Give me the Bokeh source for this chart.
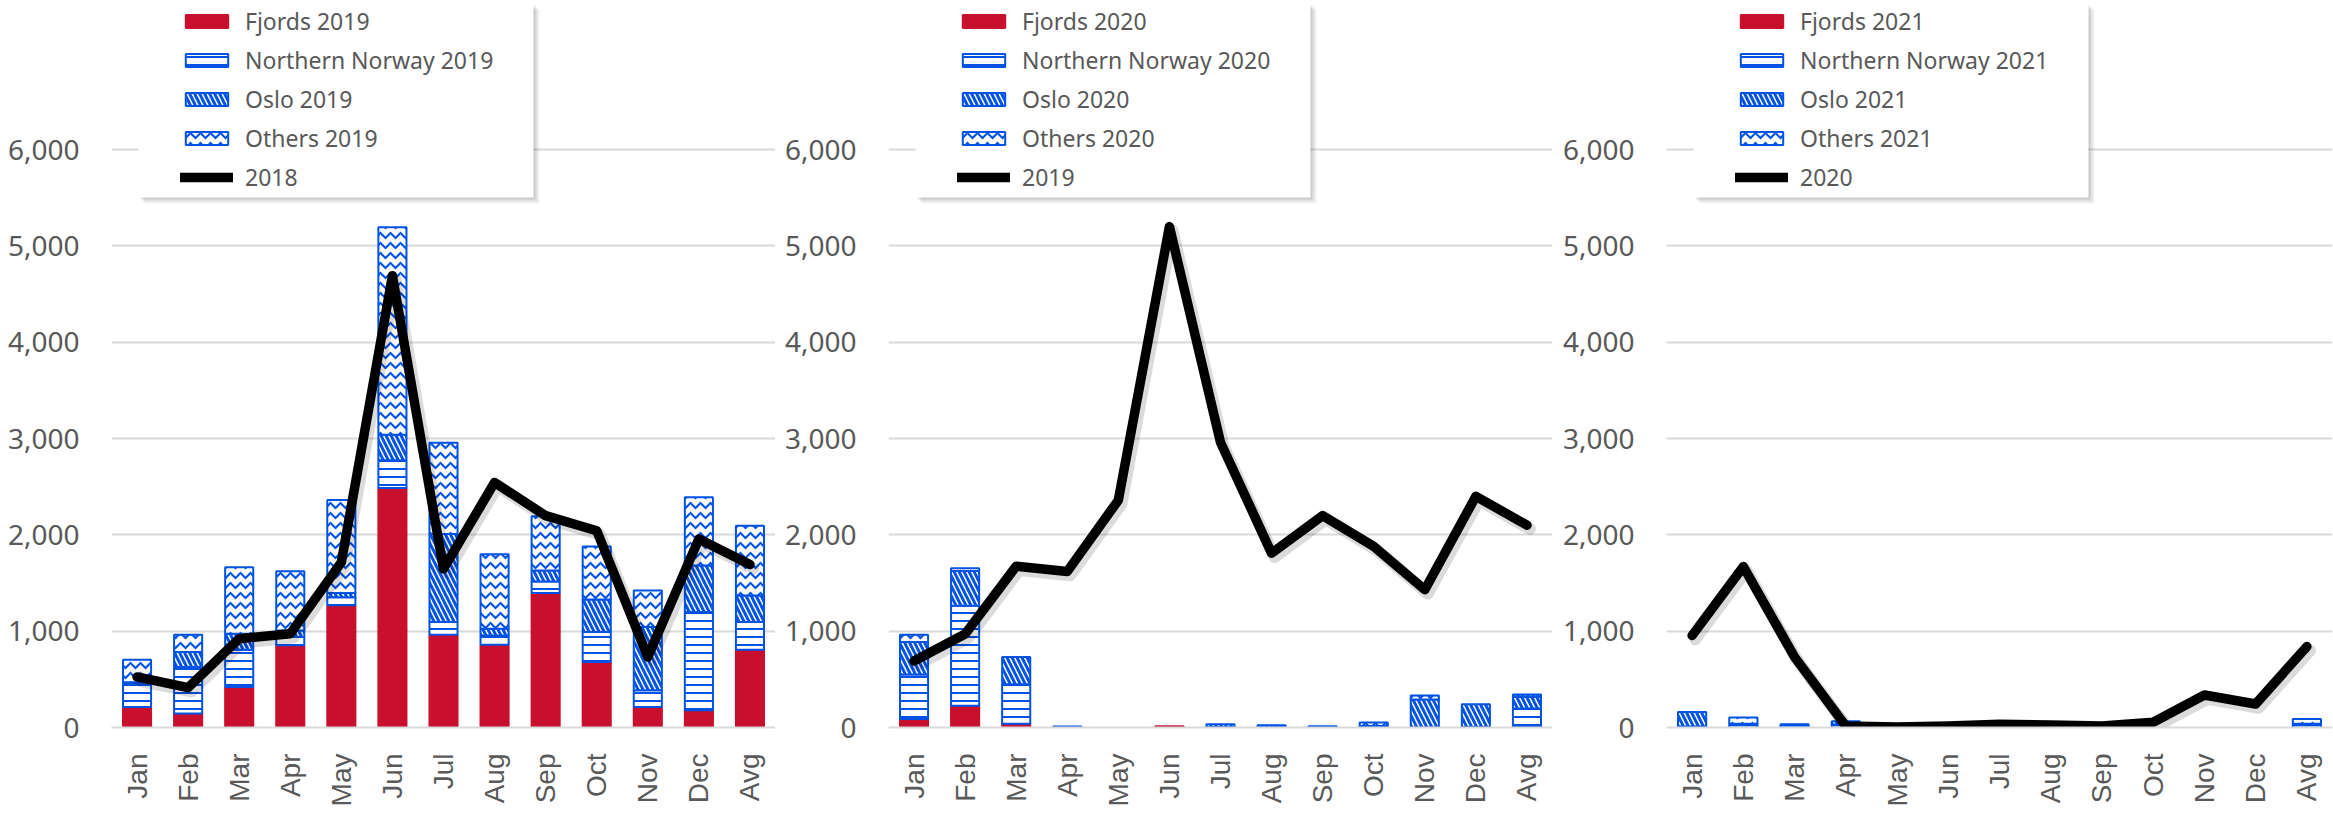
from math import pi
from bokeh.plotting import figure
from bokeh.layouts import row
from bokeh.models import (ColumnDataSource, FactorRange, Range1d, FixedTicker,
                          NumeralTickFormatter, Legend, LegendItem, BoxAnnotation)
from bokeh.transform import dodge
from bokeh.embed import file_html
from bokeh.resources import INLINE

# ---------------- data ----------------
months = ["Jan", "Feb", "Mar", "Apr", "May", "Jun", "Jul", "Aug", "Sep", "Oct", "Nov", "Dec", "Avg"]
y_ticks = [0, 1000, 2000, 3000, 4000, 5000, 6000]

fjords_2019 = [214, 145, 421, 853, 1270, 2485, 963, 860, 1395, 680, 214, 180, 808]
nn_2019     = [249, 483, 387, 86, 83, 290, 131, 96, 120, 311, 173, 1018, 286]
oslo_2019   = [8, 156, 165, 69, 42, 263, 915, 69, 114, 338, 655, 483, 276]
others_2019 = [233, 179, 691, 614, 966, 2154, 946, 773, 563, 549, 380, 708, 725]
line_2018   = [525, 414, 922, 973, 1716, 4690, 1647, 2544, 2199, 2043, 732, 1957, 1691]

fjords_2020 = [89, 227, 38, 0, 0, 12, 5, 0, 0, 0, 0, 5, 14]
nn_2020     = [461, 1038, 412, 10, 0, 0, 0, 0, 0, 15, 0, 0, 183]
oslo_2020   = [337, 360, 282, 0, 0, 0, 30, 24, 0, 0, 291, 237, 121]
others_2020 = [75, 28, 0, 0, 0, 0, 0, 0, 14, 37, 40, 0, 24]
line_2019   = [690, 970, 1675, 1620, 2360, 5200, 2960, 1810, 2200, 1880, 1430, 2400, 2100]

fjords_2021 = [0, 0, 3, 0, 0, 0, 0, 0, 0, 0, 0, 0, 0]
nn_2021     = [10, 40, 32, 30, 0, 0, 0, 0, 0, 0, 0, 0, 40]
oslo_2021   = [150, 0, 0, 36, 0, 0, 0, 0, 0, 0, 0, 0, 0]
others_2021 = [0, 63, 0, 0, 0, 0, 0, 0, 0, 0, 0, 0, 49]
line_2020   = [955, 1670, 732, 15, 5, 15, 35, 25, 15, 55, 337, 244, 840]

# ---------------- style ----------------
RED = "#C8102E"
BLUE = "#0052E5"
GRID = "#d9d9d9"
TXT = "#595959"
FIG_H = 812
FRAME_H = 727
BOTTOM = FIG_H - FRAME_H
Y_END = 7547


def make_panel(fj, nn, osl, oth, line_vals, bar_year, line_year, width, left):
    frame_w = width - left
    p = figure(x_range=FactorRange(factors=months, range_padding=0),
               y_range=Range1d(0, Y_END),
               width=width, height=FIG_H, output_backend="svg", toolbar_location=None,
               min_border_left=left, min_border_right=0, min_border_top=0,
               min_border_bottom=BOTTOM)
    p.outline_line_color = None
    p.background_fill_color = "white"
    p.border_fill_color = "white"

    src = ColumnDataSource(dict(
        month=months, f=fj, nn=nn, oslo=osl, oth=oth, line=line_vals,
        a_f=[1 if v > 0 else 0 for v in fj],
        a_nn=[1 if v > 0 else 0 for v in nn],
        a_oslo=[1 if v > 0 else 0 for v in osl],
        a_oth=[1 if v > 0 else 0 for v in oth],
    ))

    bars = p.vbar_stack(["f", "nn", "oslo", "oth"], x="month", width=0.55, source=src,
                        fill_color=[RED, "white", "white", "white"],
                        hatch_pattern=[" ", "-", "\\", "v"],
                        hatch_color=BLUE,
                        hatch_scale=[12, 8, 10, 10],
                        hatch_weight=[1, 2, 3, 2],
                        line_color=[RED, BLUE, BLUE, BLUE],
                        line_width=2,
                        line_alpha=["a_f", "a_nn", "a_oslo", "a_oth"])

    p.line(x=dodge("month", 0.06, range=p.x_range), y=dodge("line", -40, range=p.y_range),
           source=src, line_color="black", line_alpha=0.14, line_width=12,
           line_join="round", line_cap="round")
    ln = p.line(x="month", y="line", source=src, line_color="black", line_width=9.5,
                line_join="round", line_cap="round")

    # axes
    p.yaxis.ticker = FixedTicker(ticks=y_ticks)
    p.yaxis.formatter = NumeralTickFormatter(format="0,0")
    p.yaxis.axis_line_color = None
    p.yaxis.major_tick_line_color = None
    p.yaxis.minor_tick_line_color = None
    p.yaxis.major_label_text_font = "Noto Sans"
    p.yaxis.major_label_text_font_size = "28px"
    p.yaxis.major_label_text_color = TXT
    p.yaxis.major_label_standoff = 26

    p.xaxis.axis_line_color = GRID
    p.xaxis.axis_line_width = 2
    p.xaxis.major_tick_line_color = None
    p.xaxis.minor_tick_line_color = None
    p.xaxis.major_label_orientation = pi / 2
    p.xaxis.major_label_text_font = "Liberation Sans"
    p.xaxis.major_label_text_font_size = "28px"
    p.xaxis.major_label_text_color = TXT
    p.xaxis.major_label_standoff = 20

    p.xgrid.grid_line_color = None
    p.ygrid.grid_line_color = GRID
    p.ygrid.grid_line_width = 2

    # legend box with soft shadow
    ux = len(months) / frame_w          # synthetic units per px
    uy = Y_END / FRAME_H                # data units per px
    bx0, bx1, by0, by1 = 27, 422, 3, 197
    for k, a in ((6, 0.05), (4, 0.07), (2, 0.09)):
        p.add_layout(BoxAnnotation(left=(bx0 + k) * ux, right=(bx1 + k) * ux,
                                   top=Y_END - (by0 + k) * uy, bottom=Y_END - (by1 + k) * uy,
                                   fill_color="black", fill_alpha=a, line_alpha=0))
    p.add_layout(BoxAnnotation(left=bx0 * ux, right=bx1 * ux, top=Y_END - by0 * uy,
                               bottom=Y_END - by1 * uy,
                               fill_color="white", fill_alpha=1, line_alpha=0))

    def first_pos(arr):
        return next((i for i, v in enumerate(arr) if v > 0), 0)

    items = [
        LegendItem(label=f"Fjords {bar_year}", renderers=[bars[0]], index=first_pos(fj)),
        LegendItem(label=f"Northern Norway {bar_year}", renderers=[bars[1]], index=first_pos(nn)),
        LegendItem(label=f"Oslo {bar_year}", renderers=[bars[2]], index=first_pos(osl)),
        LegendItem(label=f"Others {bar_year}", renderers=[bars[3]], index=first_pos(oth)),
        LegendItem(label=f"{line_year}", renderers=[ln]),
    ]
    leg_h = 5 * 31.3 + 4 * 7
    legend = Legend(items=items, location=(69, round(FRAME_H - leg_h - 8)),
                    glyph_width=53, glyph_height=16, label_standoff=12,
                    label_height=26, spacing=7, padding=0, margin=0,
                    label_text_font="Noto Sans", label_text_font_size="23px",
                    label_text_color=TXT,
                    background_fill_alpha=0, border_line_alpha=0)
    p.add_layout(legend)
    return p


p1 = make_panel(fjords_2019, nn_2019, oslo_2019, others_2019, line_2018, 2019, 2018, 775, 111)
p2 = make_panel(fjords_2020, nn_2020, oslo_2020, others_2020, line_2019, 2020, 2019, 777, 113)
p3 = make_panel(fjords_2021, nn_2021, oslo_2021, others_2021, line_2020, 2021, 2020, 780, 114)

layout = row(p1, p2, p3, spacing=0)
open("out.html", "w").write(file_html(layout, INLINE))
